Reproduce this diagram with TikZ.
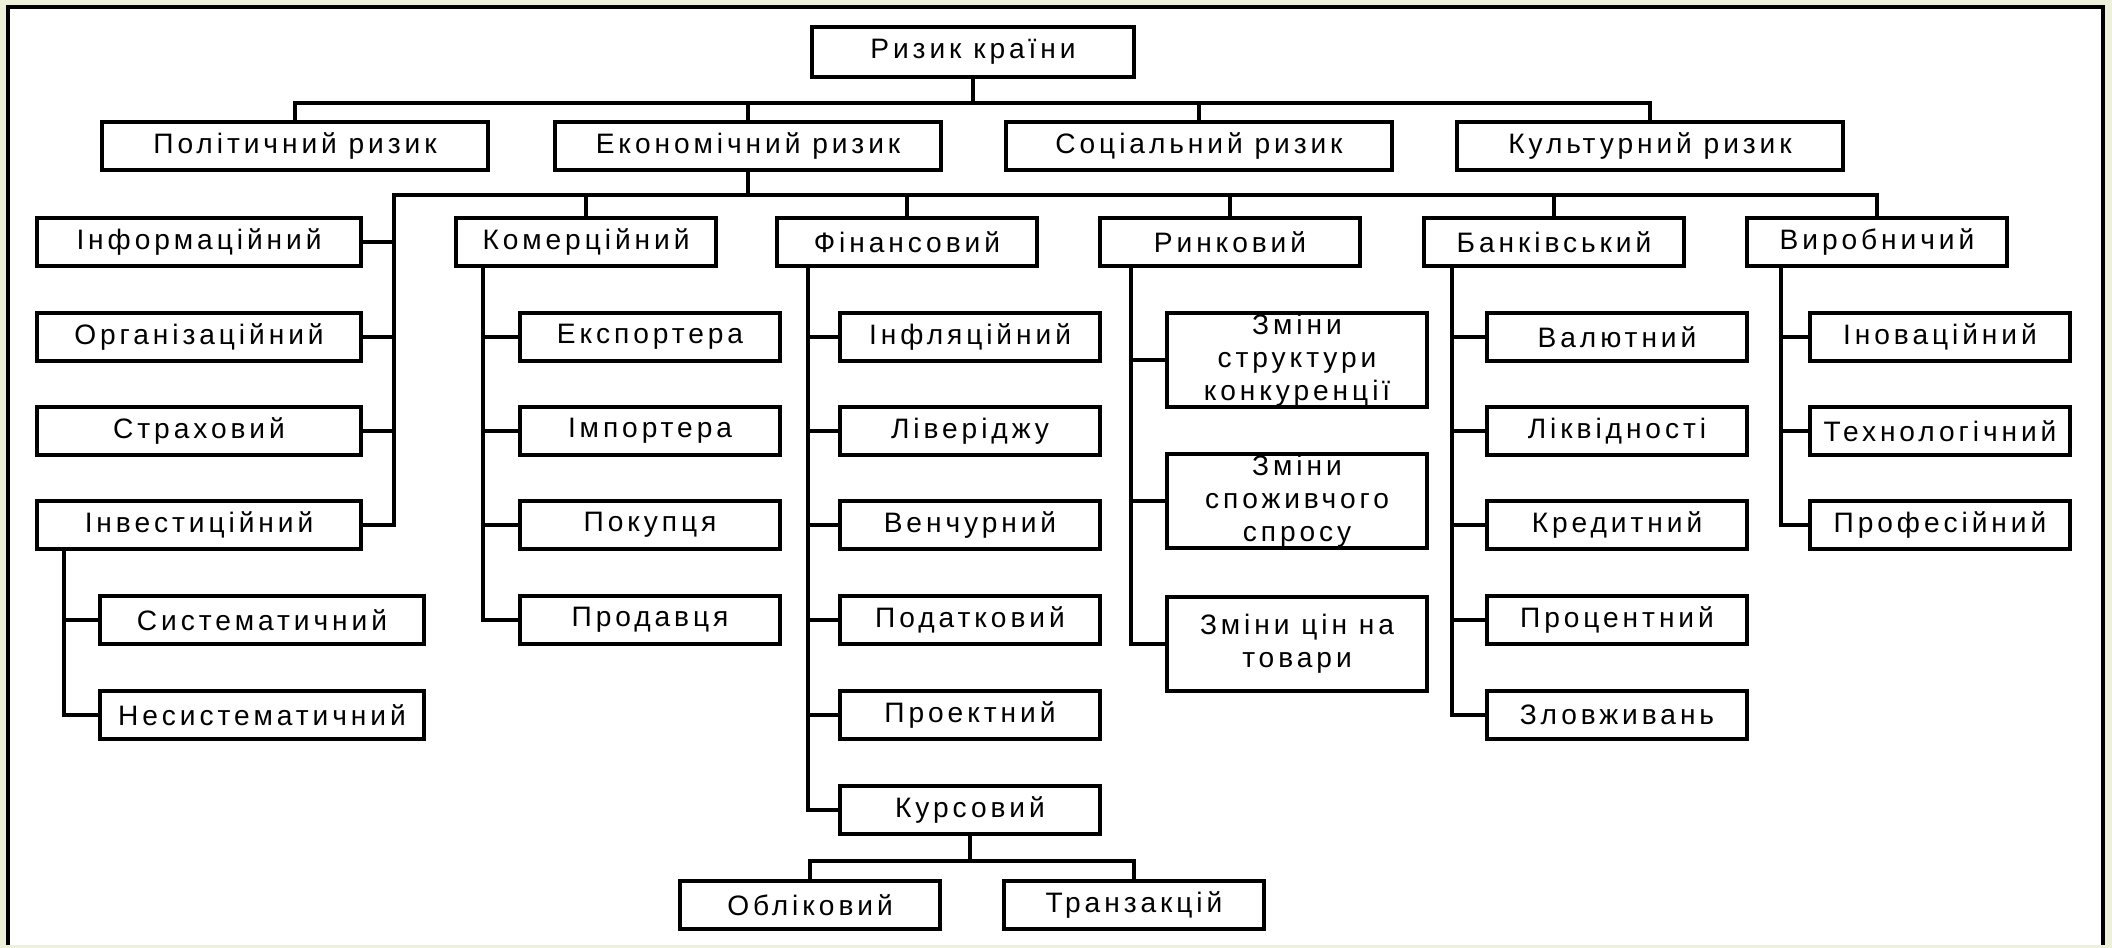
\documentclass[tikz,border=0pt]{standalone}
\usepackage{fontspec}
\setmainfont{Liberation Sans}[LetterSpace=14]
\definecolor{slide}{HTML}{EDF1DA}
\begin{document}
\begin{tikzpicture}[x=0.015cm,y=-0.015cm,line width=1.6pt,
  every node/.style={draw,fill=white,line width=1.8pt,inner sep=0pt,
    minimum height=0.71cm,minimum width=3.89cm,align=center,
    font=\fontsize{12}{14}\selectfont},
  wide/.style={minimum width=4.86cm},
  top/.style={minimum width=5.78cm},
  tall/.style={minimum height=1.41cm}]
\useasboundingbox (0,0) rectangle (2112,948);
\fill[slide] (0,0) rectangle (2112,948);
\fill[white] (8,7) rectangle (2103,945);
\draw[line width=2pt] (8,945) -- (8,7) -- (2103,7) -- (2103,945);
% root and first level
\node[minimum width=4.83cm,minimum height=0.75cm] (root) at (973,52) {Ризик країни};
\foreach \i/\x/\t in {1/295/Політичний ризик,2/748/Економічний ризик,
    3/1199/Соціальний ризик,4/1650/Культурний ризик}
  \node[top] (r\i) at (\x,146) {\t};
\draw (root.south) -- ++(0,24) coordinate (b1);
\draw (r1.north) |- (b1) -| (r4.north);
\foreach \i in {2,3}
  \draw (r\i.north) -- (r\i.north |- b1);
% economic risk
\foreach \i/\x/\t in {1/586/Комерційний,2/907/Фінансовий,3/1230/Ринковий,
    4/1554/Банківський,5/1877/Виробничий}
  \node (e\i) at (\x,242) {\t};
\foreach \i/\y/\t in {1/242/Інформаційний,2/337/Організаційний,
    3/431/Страховий,4/525/Інвестиційний}
  \node[wide] (s\i) at (199,\y) {\t};
\draw (r2.south) -- ++(0,23) coordinate (b2);
\draw (s4.east) -- ++(31,0) |- (b2) -| (e5.north);
\foreach \i in {1,...,4}
  \draw (e\i.north) -- (e\i.north |- b2);
\foreach \i in {1,2,3}
  \draw (s\i.east) -- ++(31,0);
% investment
\foreach \i/\y/\t in {1/620/Систематичний,2/715/Несистематичний}
  \node[wide] (n\i) at (262,\y) {\t};
\draw (n2.west) -- ++(-34,0) coordinate (nt) -- (nt |- s4.south);
\draw (n1.west) -- ++(-34,0);
% commercial
\foreach \i/\y/\t in {1/337/Експортера,2/431/Імпортера,3/525/Покупця,4/620/Продавця}
  \node (k\i) at (650,\y) {\t};
\draw (k4.west) -- ++(-35,0) coordinate (kt) -- (kt |- e1.south);
\foreach \i in {1,2,3}
  \draw (k\i.west) -- ++(-35,0);
% financial
\foreach \i/\y/\t in {1/337/Інфляційний,2/431/Ліверіджу,3/525/Венчурний,
    4/620/Податковий,5/715/Проектний,6/810/Курсовий}
  \node (f\i) at (970,\y) {\t};
\draw (f6.west) -- ++(-30,0) coordinate (ft) -- (ft |- e2.south);
\foreach \i in {1,...,5}
  \draw (f\i.west) -- ++(-30,0);
\node (o1) at (810,905) {Обліковий};
\node (o2) at (1134,905) {Транзакцій};
\draw (f6.south) -- ++(0,25) coordinate (kb);
\draw (o1.north) |- (kb) -| (o2.north);
% market
\foreach \i/\y/\t in {1/360/Зміни\\структури\\конкуренції,
    2/501/Зміни\\споживчого\\спросу,3/644/Зміни цін на\\товари}
  \node[tall] (m\i) at (1297,\y) {\t};
\draw (m3.west) -- ++(-34,0) coordinate (mt) -- (mt |- e3.south);
\foreach \i in {1,2}
  \draw (m\i.west) -- ++(-34,0);
% banking
\foreach \i/\y/\t in {1/337/Валютний,2/431/Ліквідності,3/525/Кредитний,
    4/620/Процентний,5/715/Зловживань}
  \node (v\i) at (1617,\y) {\t};
\draw (v5.west) -- ++(-33,0) coordinate (vt) -- (vt |- e4.south);
\foreach \i in {1,...,4}
  \draw (v\i.west) -- ++(-33,0);
% production
\foreach \i/\y/\t in {1/337/Іноваційний,2/431/Технологічний,3/525/Професійний}
  \node (p\i) at (1940,\y) {\t};
\draw (p3.west) -- ++(-27,0) coordinate (pt) -- (pt |- e5.south);
\foreach \i in {1,2}
  \draw (p\i.west) -- ++(-27,0);
\end{tikzpicture}
\end{document}
